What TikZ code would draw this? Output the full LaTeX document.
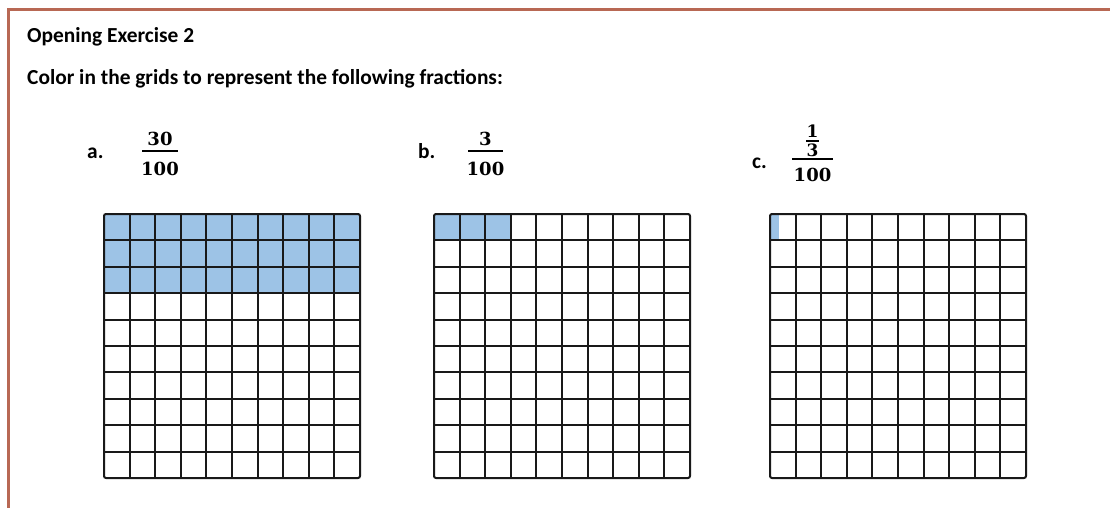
\documentclass[tikz,border=0pt]{standalone}
\usepackage{fontspec}
\newfontfamily\carlito{Carlito}
\newfontfamily\dvserif{DejaVu Serif}

\definecolor{framebrown}{RGB}{184,104,84}
\definecolor{cellblue}{RGB}{157,195,230}

\tikzset{
  frameline/.style={framebrown, line width=3pt},
  gridline/.style={line width=2pt, black!90},
  heading/.style={anchor=base west, inner sep=0pt, font=\carlito\bfseries\fontsize{21.4}{25}\selectfont},
  fraclabel/.style={anchor=base west, inner sep=0pt, font=\carlito\bfseries\fontsize{21.4}{25}\selectfont},
  fracdigit/.style={anchor=base, inner sep=0pt, font=\dvserif\bfseries\fontsize{18}{21}\selectfont},
  smalldigit/.style={anchor=base, inner sep=0pt, font=\dvserif\bfseries\fontsize{17}{20}\selectfont},
  fracbar/.style={line width=2.3pt, black},
}

\begin{document}
\begin{tikzpicture}[x=1pt,y=-1pt]
        \useasboundingbox (0,0) rectangle (1110,508);
        \draw[frameline] (8,508) -- (8,9.5) -- (1110,9.5);
        \node[heading] (title) at (27,43) {Opening Exercise 2};
        \node[heading] (task) at (27,85) {Color in the grids to represent the following fractions:};
        % a. 30/100
        \node[fraclabel] (labA) at (87,158) {a.};
        \node[fracdigit] (numA) at (160,145.5) {30};
        \node[fracdigit] (denA) at (160,175.5) {100};
        \draw[fracbar] (142,151) -- (178,151);
        % b. 3/100
        \node[fraclabel] (labB) at (418,158) {b.};
        \node[fracdigit] (numB) at (485.5,145) {3};
        \node[fracdigit] (denB) at (485.5,175) {100};
        \draw[fracbar] (468,151) -- (503,151);
        % c. (1/3)/100
        \node[fraclabel] (labC) at (752,168) {c.};
        \node[smalldigit] (oneC) at (812.5,138) {1};
        \draw[line width=1.6pt] (806,140.8) -- (819,140.8);
        \node[smalldigit] (threeC) at (812.5,156) {3};
        \draw[fracbar] (792,159) -- (833,159);
        \node[fracdigit] (denC) at (812.5,181.5) {100};
        % coloured cells
        \fill[cellblue] (104,214) rectangle ++(256,79.2);
        \fill[cellblue] (434,214) rectangle ++(76.8,26.4);
        \fill[cellblue] (770,214) rectangle ++(8.53,26.4);
        % the 10 by 10 grids
        \foreach \gx in {104,434,770} {
          \foreach \k in {1,...,9} {
            \draw[gridline] (\gx+\k*25.6,214) -- ++(0,264);
            \draw[gridline] (\gx,214+\k*26.4) -- ++(256,0);
          }
          \draw[gridline, rounded corners=2pt] (\gx,214) rectangle ++(256,264);
        }
\end{tikzpicture}
\end{document}
